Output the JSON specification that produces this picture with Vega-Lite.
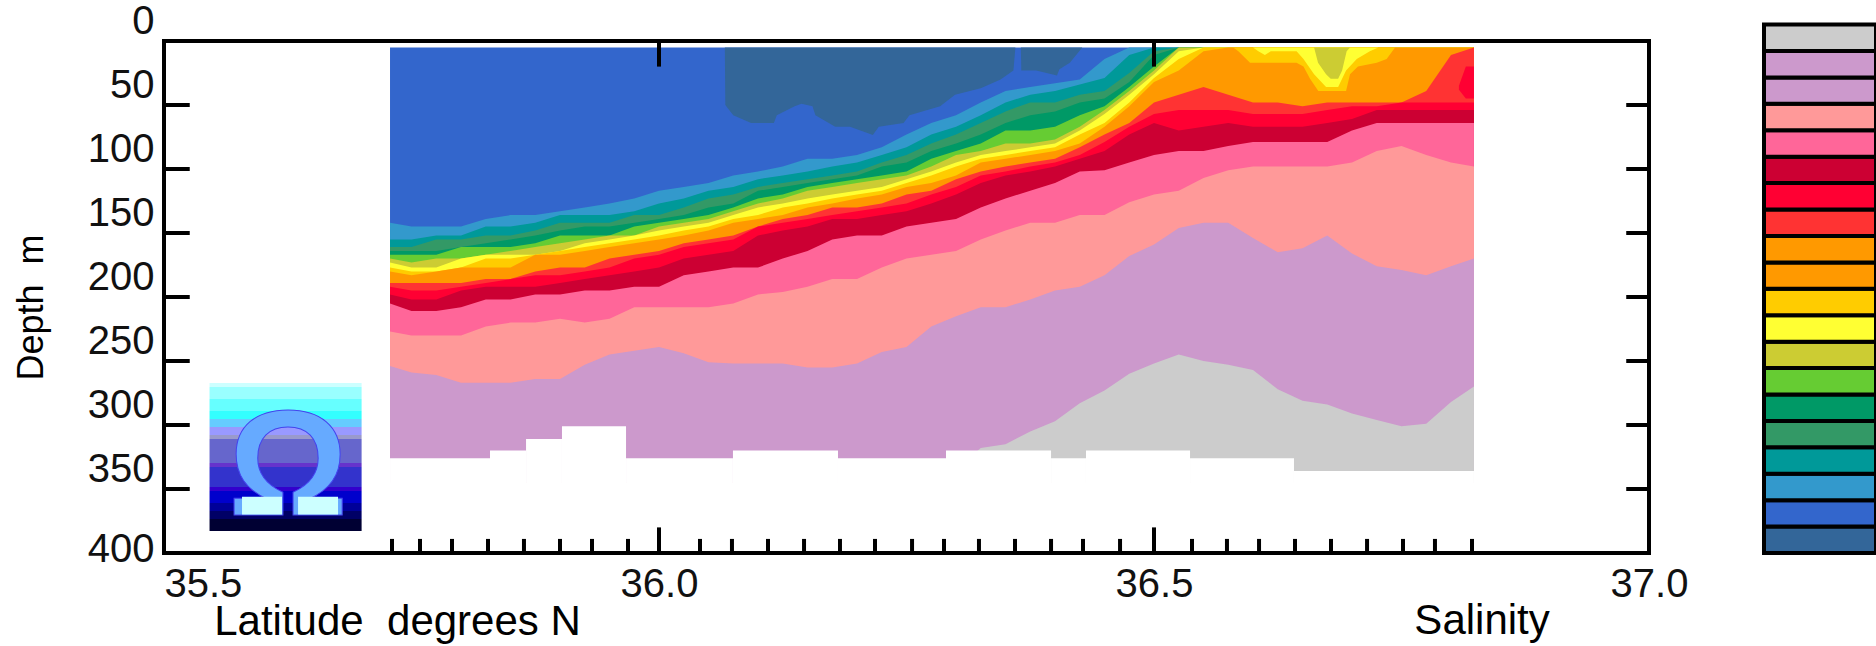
{"$schema":"https://vega.github.io/schema/vega-lite/v6.json","width":1485,"height":512,"autosize":"none","padding":{"left":164,"top":41,"right":227,"bottom":93},"background":"white","config":{"view":{"stroke":null},"range":{"category":["#ccffff","#99ffff","#66ffff","#33ffff","#66ccff","#9999ff","#9999cc","#6666cc","#6633cc","#3333cc","#3300cc","#0000cc","#000099","#000066","#000033","#ccffff","#336699","#3366cc","#3399cc","#009999","#339966","#009966","#66cc33","#cccc33","#ffff33","#ffcc00","#ff9900","#ff9900","#ff3333","#ff0033","#cc0033","#ff6699","#ff9999","#cc99cc","#cc99cc","#cccccc"]}},"resolve":{"scale":{"x":"independent","y":"independent"}},"layer":[{"layer":[
{"data":{"values":[
{"c":"L01","a":35.546,"b":35.6996,"t":267.2,"u":270.3},{"c":"L02","a":35.546,"b":35.6996,"t":270.3,"u":279.6},{"c":"L03","a":35.546,"b":35.6996,"t":279.6,"u":289},{"c":"L04","a":35.546,"b":35.6996,"t":289,"u":295.3},{"c":"L05","a":35.546,"b":35.6996,"t":295.3,"u":301.5},{"c":"L06","a":35.546,"b":35.6996,"t":301.5,"u":307.8},{"c":"L07","a":35.546,"b":35.6996,"t":307.8,"u":310.9},{"c":"L08","a":35.546,"b":35.6996,"t":310.9,"u":329.7},{"c":"L09","a":35.546,"b":35.6996,"t":329.7,"u":332.8},{"c":"L10","a":35.546,"b":35.6996,"t":332.8,"u":348.4},{"c":"L11","a":35.546,"b":35.6996,"t":348.4,"u":351.5},{"c":"L12","a":35.546,"b":35.6996,"t":351.5,"u":360.9},{"c":"L13","a":35.546,"b":35.6996,"t":360.9,"u":367.1},{"c":"L14","a":35.546,"b":35.6996,"t":367.1,"u":373.4},{"c":"L15","a":35.546,"b":35.6996,"t":373.4,"u":382.8}]},
"mark":{"type":"rect"},"encoding":{"x":{"field":"a","type":"quantitative","scale":{"domain":[35.5,37]},"axis":null},"x2":{"field":"b"},"y":{"field":"t","type":"quantitative","scale":{"domain":[400,0]},"axis":null},"y2":{"field":"u"},"color":{"field":"c","type":"nominal","legend":null}}},
{"data":{"values":[{"s":35.6253,"d":370,"t":"Ω"}]},"mark":{"type":"text","font":"Liberation Sans","fontWeight":"bold","fontSize":150,"align":"center","baseline":"alphabetic","fill":"#66aaff","stroke":"#4444ee","strokeWidth":1},"encoding":{"x":{"field":"s","type":"quantitative","scale":{"domain":[35.5,37]},"axis":null},"y":{"field":"d","type":"quantitative","scale":{"domain":[400,0]},"axis":null},"text":{"field":"t"}}},
{"data":{"values":[{"c":"L16","a":35.5788,"b":35.6192,"t":356,"u":370},{"c":"L16","a":35.6354,"b":35.6758,"t":356,"u":370}]},"mark":{"type":"rect"},"encoding":{"x":{"field":"a","type":"quantitative","scale":{"domain":[35.5,37]},"axis":null},"x2":{"field":"b"},"y":{"field":"t","type":"quantitative","scale":{"domain":[400,0]},"axis":null},"y2":{"field":"u"},"color":{"field":"c","type":"nominal","legend":null}}},
{"data":{"values":[
{"s":35.7283,"S02":5,"S03":142,"S04":155,"S05":161,"S06":164,"S07":167,"S08":170,"S09":173,"S10":177,"S11":180,"S13":189,"S14":192,"S15":198,"S16":205,"S17":227,"S18":254,"S20":345},
{"s":35.75,"S02":5,"S03":145,"S04":155,"S05":161,"S06":164,"S07":167,"S08":173,"S09":177,"S10":180,"S11":183,"S13":189,"S14":195,"S15":202,"S16":211,"S17":230,"S18":259,"S20":345},
{"s":35.775,"S02":5,"S03":145,"S04":152,"S05":155,"S06":164,"S07":167,"S08":170,"S09":177,"S10":180,"S11":180,"S13":189,"S14":195,"S15":202,"S16":211,"S17":230,"S18":261,"S20":345},
{"s":35.8,"S02":5,"S03":145,"S04":152,"S05":155,"S06":161,"S07":161,"S08":170,"S09":170,"S10":177,"S11":177,"S13":189,"S14":192,"S15":195,"S16":208,"S17":230,"S18":267,"S20":345},
{"s":35.825,"S02":5,"S03":139,"S04":145,"S05":152,"S06":158,"S07":161,"S08":167,"S09":167,"S10":170,"S11":177,"S13":186,"S14":189,"S15":192,"S16":202,"S17":223,"S18":267,"S20":345},
{"s":35.85,"S02":5,"S03":136,"S04":145,"S05":152,"S06":155,"S07":161,"S08":164,"S09":167,"S10":170,"S11":177,"S13":186,"S14":186,"S15":192,"S16":202,"S17":220,"S18":267,"S20":345},
{"s":35.875,"S02":5,"S03":136,"S04":142,"S05":148,"S06":152,"S07":158,"S08":161,"S09":167,"S10":167,"S11":167,"S13":180,"S14":183,"S15":192,"S16":198,"S17":220,"S18":264,"S20":345},
{"s":35.9,"S02":5,"S03":133,"S04":136,"S05":142,"S06":148,"S07":152,"S08":158,"S09":164,"S10":164,"S11":167,"S13":177,"S14":183,"S15":189,"S16":198,"S17":217,"S18":264,"S20":345},
{"s":35.925,"S02":5,"S03":130,"S04":136,"S05":142,"S06":145,"S07":152,"S08":155,"S09":158,"S10":161,"S11":164,"S13":177,"S14":180,"S15":186,"S16":195,"S17":220,"S18":253,"S20":345},
{"s":35.95,"S02":5,"S03":127,"S04":136,"S05":142,"S06":145,"S07":152,"S08":152,"S09":155,"S10":158,"S11":161,"S13":170,"S14":177,"S15":183,"S16":195,"S17":217,"S18":245,"S20":345},
{"s":35.975,"S02":5,"S03":123,"S04":133,"S05":136,"S06":142,"S07":145,"S08":152,"S09":152,"S10":155,"S11":158,"S13":167,"S14":170,"S15":180,"S16":192,"S17":208,"S18":242,"S20":345},
{"s":36,"S02":5,"S03":117,"S04":127,"S05":136,"S06":139,"S07":142,"S08":145,"S09":148,"S10":152,"S11":155,"S13":164,"S14":167,"S15":177,"S16":192,"S17":208,"S18":239,"S20":345},
{"s":36.025,"S02":5,"S03":114,"S04":123,"S05":130,"S06":136,"S07":139,"S08":142,"S09":145,"S10":148,"S11":152,"S13":158,"S14":161,"S15":170,"S16":183,"S17":208,"S18":244,"S20":345},
{"s":36.05,"S02":5,"S03":111,"S04":117,"S05":123,"S06":130,"S07":136,"S08":139,"S09":142,"S10":145,"S11":148,"S13":155,"S14":158,"S15":167,"S16":180,"S17":208,"S18":251,"S20":345},
{"s":36.075,"S02":5,"S03":105,"S04":114,"S05":120,"S06":127,"S07":130,"S08":133,"S09":136,"S10":139,"S11":142,"S13":152,"S14":155,"S15":164,"S16":177,"S17":205,"S18":252,"S20":345},
{"s":36.1,"S02":5,"S03":102,"S04":108,"S05":114,"S06":117,"S07":123,"S08":127,"S09":130,"S10":136,"S11":139,"S13":145,"S14":145,"S15":152,"S16":177,"S17":198,"S18":252,"S20":345},
{"s":36.125,"S02":5,"S03":98,"S04":105,"S05":111,"S06":114,"S07":120,"S08":123,"S09":127,"S10":130,"S11":136,"S13":139,"S14":142,"S15":148,"S16":170,"S17":196,"S18":252,"S20":345},
{"s":36.15,"S02":5,"S03":92,"S04":102,"S05":108,"S06":111,"S07":114,"S08":117,"S09":123,"S10":127,"S11":130,"S13":136,"S14":139,"S15":145,"S16":164,"S17":192,"S18":255,"S20":345},
{"s":36.175,"S02":5,"S03":92,"S04":98,"S05":105,"S06":108,"S07":111,"S08":114,"S09":120,"S10":123,"S11":127,"S13":130,"S14":136,"S15":139,"S16":155,"S17":186,"S18":255,"S20":345},
{"s":36.2,"S02":5,"S03":89,"S04":95,"S05":102,"S06":105,"S07":108,"S08":111,"S09":117,"S10":120,"S11":123,"S13":130,"S14":133,"S15":139,"S16":152,"S17":186,"S18":252,"S20":345},
{"s":36.225,"S02":5,"S03":83,"S04":89,"S05":95,"S06":98,"S07":105,"S08":108,"S09":114,"S10":117,"S11":120,"S13":127,"S14":130,"S15":136,"S16":152,"S17":177,"S18":243,"S20":345},
{"s":36.25,"S02":5,"S03":73,"S04":83,"S05":89,"S06":95,"S07":102,"S08":105,"S09":108,"S10":111,"S11":114,"S13":120,"S14":127,"S15":133,"S16":145,"S17":170,"S18":239,"S20":345},
{"s":36.275,"S02":5,"S03":64,"S04":73,"S05":80,"S06":86,"S07":92,"S08":98,"S09":102,"S10":105,"S11":111,"S13":117,"S14":120,"S15":127,"S16":142,"S17":167,"S18":223,"S20":345},
{"s":36.3,"S02":5,"S03":58,"S04":67,"S05":73,"S06":80,"S07":86,"S08":89,"S09":95,"S10":98,"S11":105,"S13":108,"S14":114,"S15":120,"S16":139,"S17":164,"S18":215,"S20":335},
{"s":36.325,"S02":5,"S03":48,"S04":58,"S05":64,"S06":73,"S07":80,"S08":86,"S09":89,"S10":92,"S11":95,"S13":102,"S14":105,"S15":111,"S16":130,"S17":155,"S18":208,"S20":318},
{"s":36.35,"S02":5,"S03":39,"S04":48,"S05":55,"S06":64,"S07":70,"S08":80,"S09":86,"S10":89,"S11":92,"S13":98,"S14":102,"S15":105,"S16":123,"S17":148,"S18":208,"S20":315},
{"s":36.375,"S02":5,"S03":36,"S04":42,"S05":48,"S06":58,"S07":70,"S08":80,"S09":83,"S10":86,"S11":89,"S13":95,"S14":98,"S15":102,"S16":117,"S17":142,"S18":202,"S20":305},
{"s":36.4,"S02":5,"S03":33,"S04":39,"S05":48,"S06":55,"S07":67,"S08":77,"S09":80,"S10":83,"S11":86,"S13":92,"S14":95,"S15":98,"S16":111,"S17":142,"S18":195,"S20":297},
{"s":36.425,"S02":5,"S03":30,"S04":34,"S05":42,"S06":48,"S07":58,"S08":67,"S09":70,"S10":73,"S11":80,"S13":83,"S14":89,"S15":92,"S16":102,"S17":136,"S18":192,"S20":283},
{"s":36.45,"S02":5,"S03":14,"S04":29,"S05":39,"S06":45,"S07":51,"S08":54,"S09":57,"S10":64,"S11":67,"S13":73,"S14":79,"S15":86,"S16":101,"S17":136,"S18":183,"S20":273},
{"s":36.475,"S02":5,"S03":5,"S04":11,"S05":25,"S06":32,"S07":36,"S08":39,"S09":42,"S10":48,"S11":51,"S13":64,"S14":67,"S15":73,"S16":95,"S17":126,"S18":168,"S20":260},
{"s":36.5,"S02":5,"S03":5,"S04":5,"S05":8,"S06":11,"S07":20,"S08":23,"S09":26,"S10":29,"S11":32,"S13":48,"S14":57,"S15":64,"S16":89,"S17":120,"S18":159,"S20":252},
{"s":36.525,"S02":5,"S03":5,"S04":5,"S05":5,"S06":5,"S07":5,"S08":5,"S09":8,"S10":14,"S11":23,"S13":42,"S14":54,"S15":70,"S16":86,"S17":117,"S18":146,"S20":245},
{"s":36.55,"S02":5,"S03":5,"S04":5,"S05":5,"S06":5,"S07":5,"S08":5,"S09":5,"S10":5,"S11":8,"S13":36,"S14":54,"S15":67,"S16":86,"S17":107,"S18":142,"S20":250},
{"s":36.575,"S02":5,"S03":5,"S04":5,"S05":5,"S06":5,"S07":5,"S08":5,"S09":5,"S10":5,"S11":5,"S13":42,"S14":54,"S15":64,"S16":82,"S17":101,"S18":142,"S20":253},
{"s":36.6,"S02":5,"S03":5,"S04":5,"S05":5,"S06":5,"S07":5,"S08":5,"S09":5,"S10":5,"S11":5,"S13":48,"S14":57,"S15":67,"S16":79,"S17":98,"S18":154,"S20":257},
{"s":36.625,"S02":5,"S03":5,"S04":5,"S05":5,"S06":5,"S07":5,"S08":5,"S09":5,"S10":5,"S11":5,"S13":48,"S14":57,"S15":67,"S16":79,"S17":98,"S18":165,"S20":272},
{"s":36.65,"S02":5,"S03":5,"S04":5,"S05":5,"S06":5,"S07":5,"S08":5,"S09":5,"S10":5,"S11":5,"S13":51,"S14":57,"S15":67,"S16":79,"S17":98,"S18":162,"S20":281},
{"s":36.675,"S02":5,"S03":5,"S04":5,"S05":5,"S06":5,"S07":5,"S08":5,"S09":5,"S10":5,"S11":5,"S13":48,"S14":54,"S15":64,"S16":79,"S17":98,"S18":152,"S20":284},
{"s":36.7,"S02":5,"S03":5,"S04":5,"S05":5,"S06":5,"S07":5,"S08":5,"S09":5,"S10":5,"S11":5,"S13":48,"S14":51,"S15":61,"S16":70,"S17":95,"S18":166,"S20":291},
{"s":36.725,"S02":5,"S03":5,"S04":5,"S05":5,"S06":5,"S07":5,"S08":5,"S09":5,"S10":5,"S11":5,"S13":48,"S14":51,"S15":54,"S16":64,"S17":86,"S18":176,"S20":296},
{"s":36.75,"S02":5,"S03":5,"S04":5,"S05":5,"S06":5,"S07":5,"S08":5,"S09":5,"S10":5,"S11":5,"S13":48,"S14":48,"S15":54,"S16":64,"S17":82,"S18":179,"S20":301},
{"s":36.775,"S02":5,"S03":5,"S04":5,"S05":5,"S06":5,"S07":5,"S08":5,"S09":5,"S10":5,"S11":5,"S13":39,"S14":48,"S15":54,"S16":64,"S17":89,"S18":183,"S20":299},
{"s":36.8,"S02":5,"S03":5,"S04":5,"S05":5,"S06":5,"S07":5,"S08":5,"S09":5,"S10":5,"S11":5,"S13":11,"S14":48,"S15":54,"S16":64,"S17":95,"S18":176,"S20":282},
{"s":36.8232,"S02":5,"S03":5,"S04":5,"S05":5,"S06":5,"S07":5,"S08":5,"S09":5,"S10":5,"S11":5,"S13":5,"S14":48,"S15":54,"S16":64,"S17":98,"S18":170,"S20":270}]},
"transform":[{"fold":["S02","S03","S04","S05","S06","S07","S08","S09","S10","S11","S13","S14","S15","S16","S17","S18","S20"],"as":["c","d"]}],
"mark":{"type":"area"},"encoding":{"x":{"field":"s","type":"quantitative","scale":{"domain":[35.5,37]},"axis":null},"y":{"field":"d","type":"quantitative","scale":{"domain":[400,0]},"axis":null,"stack":null},"y2":{"datum":345},"color":{"field":"c","type":"nominal","legend":null}}},
{"data":{"values":[
{"p":"dark1","c":"S01","s":36.0665,"t":5,"d":5},{"p":"dark1","c":"S01","s":36.067,"t":5,"d":50},{"p":"dark1","c":"S01","s":36.075,"t":5,"d":58},{"p":"dark1","c":"S01","s":36.093,"t":5,"d":64},{"p":"dark1","c":"S01","s":36.116,"t":5,"d":64},{"p":"dark1","c":"S01","s":36.119,"t":5,"d":58},{"p":"dark1","c":"S01","s":36.137,"t":5,"d":51},{"p":"dark1","c":"S01","s":36.144,"t":5,"d":49},{"p":"dark1","c":"S01","s":36.155,"t":5,"d":51},{"p":"dark1","c":"S01","s":36.158,"t":5,"d":58},{"p":"dark1","c":"S01","s":36.178,"t":5,"d":67},{"p":"dark1","c":"S01","s":36.193,"t":5,"d":67},{"p":"dark1","c":"S01","s":36.216,"t":5,"d":73.5},{"p":"dark1","c":"S01","s":36.222,"t":5,"d":67},{"p":"dark1","c":"S01","s":36.247,"t":5,"d":64},{"p":"dark1","c":"S01","s":36.253,"t":5,"d":58},{"p":"dark1","c":"S01","s":36.284,"t":5,"d":51},{"p":"dark1","c":"S01","s":36.299,"t":5,"d":42},{"p":"dark1","c":"S01","s":36.325,"t":5,"d":37},{"p":"dark1","c":"S01","s":36.345,"t":5,"d":30},{"p":"dark1","c":"S01","s":36.358,"t":5,"d":23},{"p":"dark1","c":"S01","s":36.36,"t":5,"d":5},
{"p":"dark2","c":"S01","s":36.3655,"t":5,"d":5},{"p":"dark2","c":"S01","s":36.366,"t":5,"d":23},{"p":"dark2","c":"S01","s":36.381,"t":5,"d":23},{"p":"dark2","c":"S01","s":36.402,"t":5,"d":27},{"p":"dark2","c":"S01","s":36.4045,"t":5,"d":22},{"p":"dark2","c":"S01","s":36.415,"t":5,"d":17},{"p":"dark2","c":"S01","s":36.4276,"t":5,"d":5},
{"p":"gold","c":"S10","s":36.58,"t":5,"d":5},{"p":"gold","c":"S10","s":36.5852,"t":5,"d":8},{"p":"gold","c":"S10","s":36.597,"t":5,"d":17},{"p":"gold","c":"S10","s":36.644,"t":5,"d":17},{"p":"gold","c":"S10","s":36.651,"t":5,"d":20},{"p":"gold","c":"S10","s":36.6576,"t":5,"d":29.5},{"p":"gold","c":"S10","s":36.666,"t":5,"d":39},{"p":"gold","c":"S10","s":36.694,"t":5,"d":39},{"p":"gold","c":"S10","s":36.698,"t":5,"d":26},{"p":"gold","c":"S10","s":36.706,"t":5,"d":20},{"p":"gold","c":"S10","s":36.725,"t":5,"d":17},{"p":"gold","c":"S10","s":36.735,"t":5,"d":14},{"p":"gold","c":"S10","s":36.7435,"t":5,"d":5},
{"p":"yellow","c":"S09","s":36.6,"t":5,"d":5},{"p":"yellow","c":"S09","s":36.6054,"t":5,"d":8},{"p":"yellow","c":"S09","s":36.612,"t":5,"d":11},{"p":"yellow","c":"S09","s":36.618,"t":5,"d":8},{"p":"yellow","c":"S09","s":36.644,"t":5,"d":8},{"p":"yellow","c":"S09","s":36.651,"t":5,"d":14},{"p":"yellow","c":"S09","s":36.6617,"t":5,"d":26},{"p":"yellow","c":"S09","s":36.6738,"t":5,"d":36},{"p":"yellow","c":"S09","s":36.686,"t":5,"d":36},{"p":"yellow","c":"S09","s":36.694,"t":5,"d":23},{"p":"yellow","c":"S09","s":36.7048,"t":5,"d":14},{"p":"yellow","c":"S09","s":36.718,"t":5,"d":8},{"p":"yellow","c":"S09","s":36.7266,"t":5,"d":5},
{"p":"khaki","c":"S08","s":36.6617,"t":5,"d":5},{"p":"khaki","c":"S08","s":36.6657,"t":5,"d":17},{"p":"khaki","c":"S08","s":36.6738,"t":5,"d":26},{"p":"khaki","c":"S08","s":36.6785,"t":5,"d":29.5},{"p":"khaki","c":"S08","s":36.686,"t":5,"d":29.5},{"p":"khaki","c":"S08","s":36.69,"t":5,"d":23},{"p":"khaki","c":"S08","s":36.6946,"t":5,"d":8},{"p":"khaki","c":"S08","s":36.698,"t":5,"d":5},
{"p":"redpatch","c":"S14","s":36.808,"t":35,"d":38},{"p":"redpatch","c":"S14","s":36.815,"t":20,"d":45},{"p":"redpatch","c":"S14","s":36.8232,"t":20,"d":45}]},
"mark":{"type":"area"},"encoding":{"detail":{"field":"p"},"x":{"field":"s","type":"quantitative","scale":{"domain":[35.5,37]},"axis":null},"y":{"field":"d","type":"quantitative","scale":{"domain":[400,0]},"axis":null,"stack":null},"y2":{"field":"t"},"color":{"field":"c","type":"nominal","legend":null}}},
{"data":{"values":[{"a":35.7283,"b":35.8293,"d":326},{"a":35.8293,"b":35.8657,"d":320},{"a":35.8657,"b":35.902,"d":311},{"a":35.902,"b":35.9667,"d":301},{"a":35.9667,"b":36.0747,"d":326},{"a":36.0747,"b":36.1808,"d":320},{"a":36.1808,"b":36.2899,"d":326},{"a":36.2899,"b":36.396,"d":320},{"a":36.396,"b":36.4313,"d":326},{"a":36.4313,"b":36.5364,"d":320},{"a":36.5364,"b":36.6414,"d":326},{"a":36.6414,"b":36.8232,"d":336}]},
"mark":{"type":"rect","fill":"white"},"encoding":{"x":{"field":"a","type":"quantitative","scale":{"domain":[35.5,37]},"axis":null},"x2":{"field":"b"},"y":{"field":"d","type":"quantitative","scale":{"domain":[400,0]},"axis":null},"y2":{"datum":346}}},
{"data":{"values":[{"s":36,"d0":0,"d1":20},{"s":36.5,"d0":0,"d1":20},{"s":36,"d0":400,"d1":380},{"s":36.5,"d0":400,"d1":380},{"s":35.7303,"d0":400,"d1":389},{"s":35.7586,"d0":400,"d1":389},{"s":35.7909,"d0":400,"d1":389},{"s":35.8273,"d0":400,"d1":389},{"s":35.8636,"d0":400,"d1":389},{"s":35.9,"d0":400,"d1":389},{"s":35.9323,"d0":400,"d1":389},{"s":35.9687,"d0":400,"d1":389},{"s":36.0414,"d0":400,"d1":389},{"s":36.0737,"d0":400,"d1":389},{"s":36.1101,"d0":400,"d1":389},{"s":36.1465,"d0":400,"d1":389},{"s":36.1828,"d0":400,"d1":389},{"s":36.2182,"d0":400,"d1":389},{"s":36.2556,"d0":400,"d1":389},{"s":36.2879,"d0":400,"d1":389},{"s":36.3232,"d0":400,"d1":389},{"s":36.3596,"d0":400,"d1":389},{"s":36.396,"d0":400,"d1":389},{"s":36.4283,"d0":400,"d1":389},{"s":36.4657,"d0":400,"d1":389},{"s":36.5384,"d0":400,"d1":389},{"s":36.5737,"d0":400,"d1":389},{"s":36.6061,"d0":400,"d1":389},{"s":36.6424,"d0":400,"d1":389},{"s":36.6788,"d0":400,"d1":389},{"s":36.7152,"d0":400,"d1":389},{"s":36.7515,"d0":400,"d1":389},{"s":36.7838,"d0":400,"d1":389},{"s":36.8212,"d0":400,"d1":389}]},
"mark":{"type":"rule","color":"black","strokeWidth":4},"encoding":{"x":{"field":"s","type":"quantitative","scale":{"domain":[35.5,37]},"axis":null},"y":{"field":"d0","type":"quantitative","scale":{"domain":[400,0]},"axis":null},"y2":{"field":"d1"}}},
{"data":{"values":[{"d":50,"a":35.5,"b":35.526},{"d":100,"a":35.5,"b":35.526},{"d":150,"a":35.5,"b":35.526},{"d":200,"a":35.5,"b":35.526},{"d":250,"a":35.5,"b":35.526},{"d":300,"a":35.5,"b":35.526},{"d":350,"a":35.5,"b":35.526},{"d":50,"a":36.977,"b":37},{"d":100,"a":36.977,"b":37},{"d":150,"a":36.977,"b":37},{"d":200,"a":36.977,"b":37},{"d":250,"a":36.977,"b":37},{"d":300,"a":36.977,"b":37},{"d":350,"a":36.977,"b":37}]},
"mark":{"type":"rule","color":"black","strokeWidth":4},"encoding":{"y":{"field":"d","type":"quantitative","scale":{"domain":[400,0]},"axis":null},"x":{"field":"a","type":"quantitative","scale":{"domain":[35.5,37]},"axis":null},"x2":{"field":"b"}}},
{"data":{"values":[{"s":36.763,"d":463,"t":"Salinity"}]},"mark":{"type":"text","font":"Liberation Sans","fontSize":42,"align":"left","baseline":"alphabetic","color":"black"},"encoding":{"x":{"field":"s","type":"quantitative","scale":{"domain":[35.5,37]},"axis":null},"y":{"field":"d","type":"quantitative","scale":{"domain":[400,0]},"axis":null},"text":{"field":"t"}}}
]},
{"data":{"values":[{"a":35.5,"b":37,"t":0,"u":400}]},"mark":{"type":"rect","fillOpacity":0,"stroke":"black","strokeWidth":4},
"encoding":{"x":{"field":"a","type":"quantitative","scale":{"domain":[35.5,37]},"axis":{"orient":"bottom","values":[35.5,36,36.5,37],"format":".1f","domain":false,"ticks":false,"grid":false,"labelFont":"Liberation Sans","labelFontSize":40,"labelColor":"#111","labelPadding":11,"labelOverlap":false,"labelBound":false,"labelFlush":false,"labelAlign":{"expr":"datum.value===35.5?'left':'center'"},"title":"Latitude \u00a0degrees N","titleFont":"Liberation Sans","titleFontSize":42,"titleFontWeight":"normal","titleColor":"black","titleX":233,"titleY":81,"titleAlign":"center","titleBaseline":"alphabetic"}},"x2":{"field":"b"},
"y":{"field":"t","type":"quantitative","scale":{"domain":[400,0]},"axis":{"orient":"left","values":[0,50,100,150,200,250,300,350,400],"domain":false,"ticks":false,"grid":false,"labelFont":"Liberation Sans","labelFontSize":40,"labelColor":"#111","labelPadding":10,"labelOverlap":false,"labelBound":false,"labelFlush":false,"labelOffset":{"expr":"datum.value===400?-4:-20"},"title":"Depth \u00a0m","titleFont":"Liberation Sans","titleFontSize":36,"titleFontWeight":"normal","titleColor":"black","titleX":-122,"titleY":266,"titleAngle":270,"titleAlign":"center","titleBaseline":"alphabetic"}},"y2":{"field":"u"}}},
{"data":{"values":[{"c":"S01"},{"c":"S02"},{"c":"S03"},{"c":"S04"},{"c":"S05"},{"c":"S06"},{"c":"S07"},{"c":"S08"},{"c":"S09"},{"c":"S10"},{"c":"S11"},{"c":"S12"},{"c":"S13"},{"c":"S14"},{"c":"S15"},{"c":"S16"},{"c":"S17"},{"c":"S18"},{"c":"S19"},{"c":"S20"}]},
"mark":{"type":"rect","stroke":"black","strokeWidth":4},"encoding":{"y":{"field":"c","type":"ordinal","sort":"descending","scale":{"range":[-16.4,512],"paddingInner":0,"paddingOuter":0},"axis":null},"x":{"datum":0,"type":"quantitative","scale":{"domain":[0,1],"range":[1600,1712]},"axis":null},"x2":{"datum":1},"color":{"field":"c","type":"nominal","legend":null}}}
]}
